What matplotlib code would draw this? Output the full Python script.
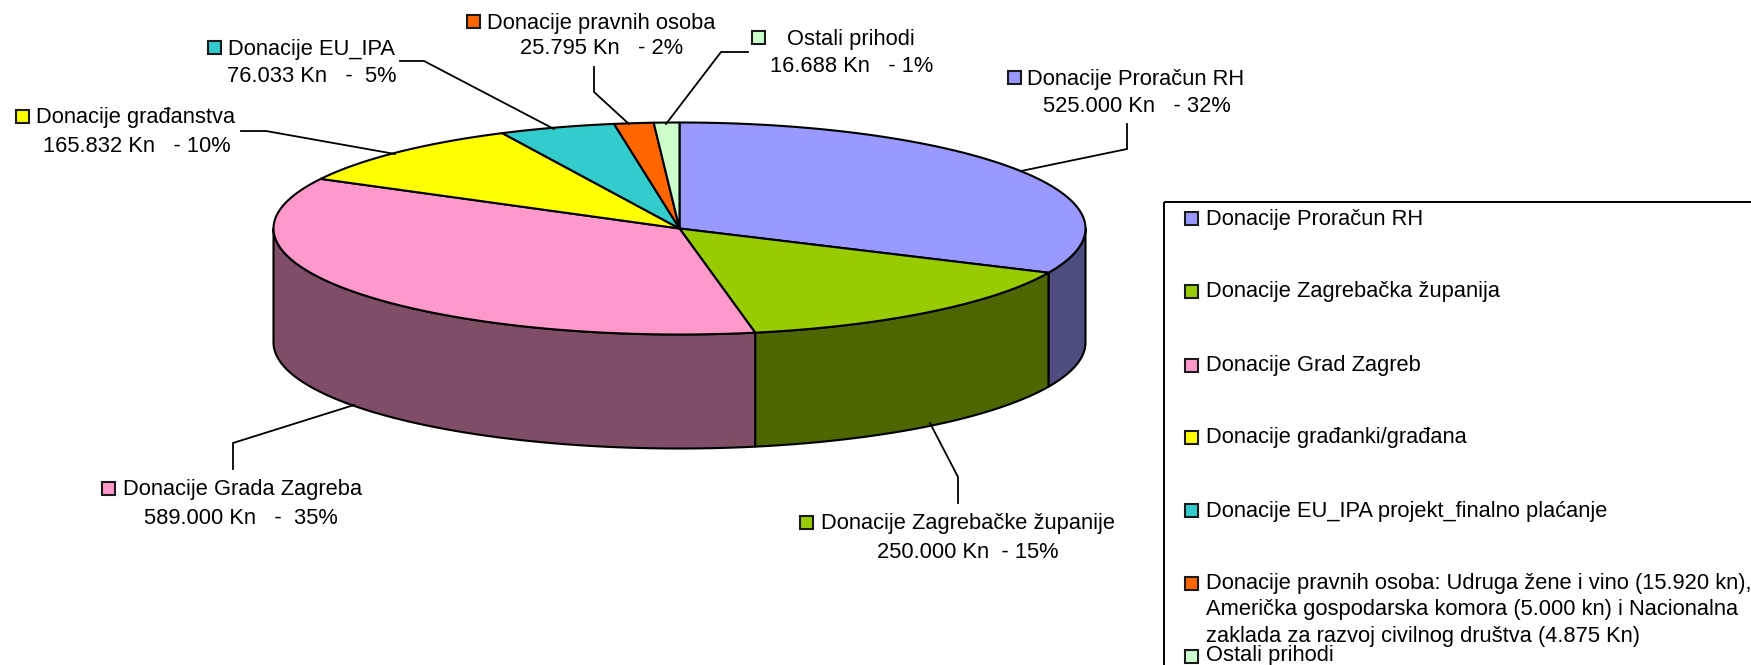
import numpy as np
import matplotlib
matplotlib.use('Agg')
from matplotlib import pyplot as plt
from matplotlib.patches import Polygon, Rectangle

plt.rcParams['font.family'] = ['Liberation Sans', 'DejaVu Sans']

# Slice values in Kn, clockwise from 12 o'clock
values = [525000, 250000, 589000, 165832, 76033, 25795, 16688]
colors = ['#9999FF', '#99CC00', '#FF99CC', '#FFFF00', '#33CCCC', '#FF6600', '#CCFFCC']
side_colors = ['#4D4D80', '#4D6600', '#804D66', '#808000', '#1A6666', '#803300', '#668066']

label_names = ['Donacije Proračun RH', 'Donacije Zagrebačke županije', 'Donacije Grada Zagreba',
               'Donacije građanstva', 'Donacije EU_IPA', 'Donacije pravnih osoba', 'Ostali prihodi']
label_values = ['525.000 Kn   - 32%', '250.000 Kn  - 15%', '589.000 Kn   -  35%',
                '165.832 Kn   - 10%', '76.033 Kn   -  5%', '25.795 Kn   - 2%', '16.688 Kn   - 1%']
legend_names = ['Donacije Proračun RH', 'Donacije Zagrebačka županija', 'Donacije Grad Zagreb',
                'Donacije građanki/građana', 'Donacije EU_IPA projekt_finalno plaćanje',
                'Donacije pravnih osoba: Udruga žene i vino (15.920 kn),\n'
                'Američka gospodarska komora (5.000 kn) i Nacionalna\n'
                'zaklada za razvoj civilnog društva (4.875 Kn)',
                'Ostali prihodi']

# layout, in pixels of the output image
cx, cy = 679.5, 228.5
rx, ry = 406, 106
depth = 114
font_size = 15.75

# marker x, marker y, text x, second line centre x, second line y
label_pos = [(1014, 77, 1027, 1137, 107), (806, 522, 821, 968, 553), (108, 488, 123, 241, 518),
             (22, 116, 36, 137, 147), (214, 47, 228, 312, 76), (473, 21, 487, 602, 48),
             (758, 37, 787, 852, 67)]
leaders = [[(1127, 124), (1127, 149), (1021, 171)], [(958, 503), (958, 477), (930, 423)],
           [(233, 469), (233, 443), (354, 405)], [(241, 131), (266, 131), (395, 154)],
           [(400, 61), (424, 61), (554, 129)], [(594, 67), (594, 92), (629, 124)],
           [(748, 52), (721, 52), (666, 124)]]
legend_y = [218, 291, 365, 437, 510, 583, 656]
legend_text_y = [219, 291, 366, 438, 511, 584, 656]


def rim(a0, a1, dy=0.0):
    a = np.linspace(a0, a1, max(int(abs(a1 - a0) * 100), 2))
    return np.column_stack([cx + rx * np.sin(a), cy - ry * np.cos(a) + dy])


def marker(ax, x, y, color):
    ax.add_patch(Rectangle((x - 6.5, y - 6.5), 13, 13, fc=color, ec='#1a1a1a', lw=1.5, zorder=5))


fig = plt.figure(figsize=(17.51, 6.65), dpi=100)
ax = fig.add_axes([0, 0, 1, 1])
ax.set_xlim(0, 1751)
ax.set_ylim(665, 0)
ax.axis('off')

total = sum(values)
edges = np.concatenate([[0], np.cumsum(values)]) / total * 2 * np.pi

# side wall, only the part between 3 and 9 o'clock is visible
for i in range(len(values)):
    a0 = max(edges[i], np.pi / 2)
    a1 = min(edges[i + 1], 3 * np.pi / 2)
    if a0 >= a1:
        continue
    front = rim(a0, a1)
    back = rim(a1, a0, depth)
    ax.add_patch(Polygon(np.vstack([front, back]), closed=True, fc=side_colors[i], ec='black', lw=1.5,
                         joinstyle='round', zorder=1))

# top face
for i in range(len(values)):
    pts = np.vstack([[(cx, cy)], rim(edges[i], edges[i + 1])])
    ax.add_patch(Polygon(pts, closed=True, fc=colors[i], ec='black', lw=1.5, joinstyle='round', zorder=2))

# data labels
for i in range(len(values)):
    mx, my, tx, vx, vy = label_pos[i]
    marker(ax, mx, my, colors[i])
    ax.text(tx, my + 2, label_names[i], fontsize=font_size, va='center', ha='left', color='black')
    ax.text(vx, vy, label_values[i], fontsize=font_size, va='center', ha='center', color='black')
    line = np.array(leaders[i])
    ax.plot(line[:, 0], line[:, 1], color='black', lw=1.3, zorder=3, solid_joinstyle='miter')

# legend box runs off the right and bottom of the picture
ax.add_patch(Rectangle((1164, 202), 700, 600, fc='none', ec='black', lw=1.4, zorder=1))
for i in range(len(legend_names)):
    marker(ax, 1191, legend_y[i], colors[i])
    if '\n' in legend_names[i]:
        ax.text(1206, legend_text_y[i] - 11, legend_names[i], fontsize=font_size, va='top', ha='left',
                linespacing=1.33, color='black')
    else:
        ax.text(1206, legend_text_y[i], legend_names[i], fontsize=font_size, va='center', ha='left',
                color='black')

fig.savefig('out.png', dpi=100)
